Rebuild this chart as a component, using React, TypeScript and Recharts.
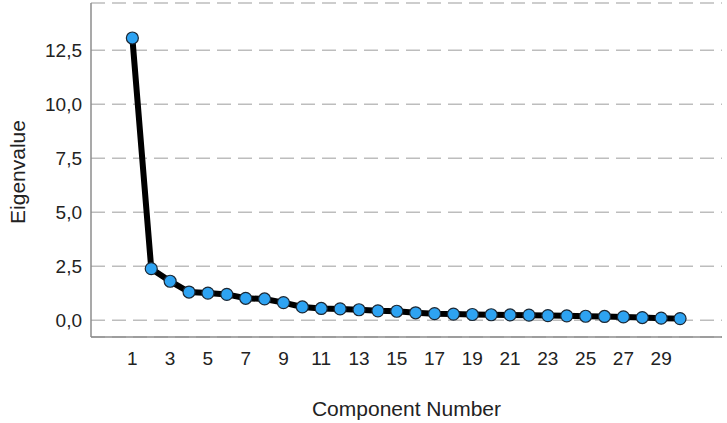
import { CartesianGrid, Label, Line, LineChart, XAxis, YAxis } from "recharts";

const components = [1, 2, 3, 4, 5, 6, 7, 8, 9, 10, 11, 12, 13, 14, 15, 16, 17, 18, 19, 20, 21, 22, 23, 24, 25, 26, 27, 28, 29, 30];
const eigenvalues = [13.06, 2.39, 1.81, 1.31, 1.26, 1.2, 1.02, 0.99, 0.82, 0.62, 0.55, 0.53, 0.49, 0.44, 0.42, 0.35, 0.31, 0.29, 0.27, 0.26, 0.25, 0.24, 0.22, 0.21, 0.19, 0.18, 0.16, 0.13, 0.1, 0.08];
const xTicks = [1, 3, 5, 7, 9, 11, 13, 15, 17, 19, 21, 23, 25, 27, 29];
const yTicks = [0, 2.5, 5, 7.5, 10, 12.5];

const data = components.map((c, i) => ({ component: c, value: eigenvalues[i] }));

const font = "'Liberation Sans', Arial, sans-serif";
const textColor = "#222";

function YTitle(props: any) {
    const vb = props.viewBox;
    const cx = vb.x + 17;
    const cy = vb.y + vb.height / 2 + 2;
    return (
        <text x={cx} y={cy} transform={`rotate(-90, ${cx}, ${cy})`} textAnchor="middle"
            dominantBaseline="central" fill={textColor} fontSize={21} fontFamily={font}>
            Eigenvalue
        </text>
    );
}

export default function App() {
    return (
        <div style={{ position: "absolute", left: 0, top: 0, background: "#fff" }}>
            <LineChart width={727} height={423} data={data} margin={{ top: 3, right: 5, left: 0, bottom: 0 }}>

                <CartesianGrid horizontal vertical={false} stroke="#bdbdbd" strokeWidth={1.5} strokeDasharray="14 7" />

                <XAxis dataKey="component" type="number" domain={[-1.19, 32.22]} ticks={xTicks} allowDataOverflow
                    height={86} tickSize={0} tickMargin={15} interval={0}
                    axisLine={{ stroke: "#8c8c8c", strokeWidth: 1.5 }} tickLine={false}
                    tick={{ fill: textColor, fontSize: 19, fontFamily: font }}>
                    <Label value="Component Number" position="insideBottom" offset={7}
                        fill={textColor} fontSize={21} fontFamily={font} />
                </XAxis>

                <YAxis type="number" domain={[-0.77, 14.68]} ticks={yTicks} allowDataOverflow
                    width={91} tickSize={0} tickMargin={9} interval={0}
                    axisLine={{ stroke: "#8c8c8c", strokeWidth: 1.5 }} tickLine={false}
                    tickFormatter={(v: number) => v.toFixed(1).replace(".", ",")}
                    tick={{ fill: textColor, fontSize: 19, fontFamily: font }}>
                    <Label content={YTitle} />
                </YAxis>

                <Line dataKey="value" type="linear" stroke="#000" strokeWidth={6} isAnimationActive={false}
                    dot={{ r: 6, fill: "#2ea3f2", stroke: "#1b2733", strokeWidth: 1.2 }} activeDot={false} />
            </LineChart>
        </div>
    );
}
